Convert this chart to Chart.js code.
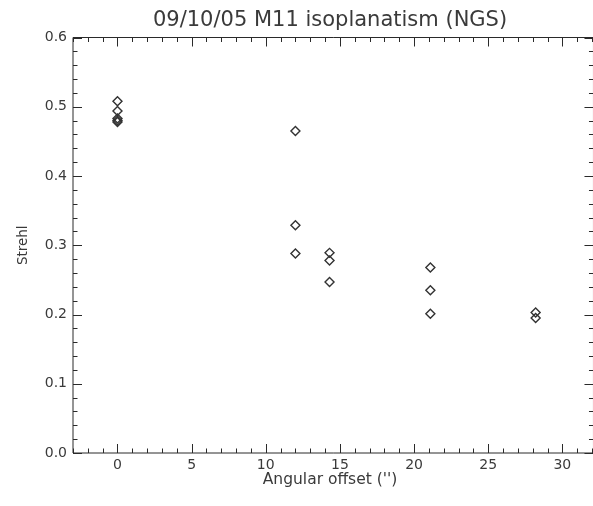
<!DOCTYPE html>
<html>
<head>
<meta charset="utf-8">
<script src="https://cdn.jsdelivr.net/npm/chart.js@4"></script>
<style>
  html, body { margin: 0; padding: 0; background: #fff; }
  #wrap { width: 593px; height: 506px; }
</style>
</head>
<body>
<div id="wrap"><canvas id="strehlChart" width="593" height="506"></canvas></div>
<script>
// valeurs
const offsets = [0, 0, 0, 0, 0, 12, 12, 12, 14.3, 14.3, 14.3, 21.1, 21.1, 21.1, 28.2, 28.2];
const strehl = [0.508, 0.494, 0.483, 0.480, 0.478, 0.465, 0.329, 0.288, 0.289, 0.278, 0.247, 0.268, 0.235, 0.201, 0.203, 0.195];
const xTicks = [0, 5, 10, 15, 20, 25, 30];
const yTicks = [0.0, 0.1, 0.2, 0.3, 0.4, 0.5, 0.6];

const ink = '#2a2a2a';
const fontName = "'DejaVu Sans', sans-serif";

// cadre façon IDL : traits de graduation vers l'intérieur sur les 4 côtés
const idlFrame = {
  id: 'idlFrame',
  afterDraw(chart) {
    const { ctx, chartArea: a, scales: { x, y } } = chart;
    const left = a.left, top = a.top, bottom = a.bottom;
    const right = x.getPixelForValue(32.1);
    ctx.save();
    ctx.strokeStyle = ink;
    ctx.lineWidth = 1;
    ctx.beginPath();
    ctx.moveTo(left, top); ctx.lineTo(right, top);
    ctx.lineTo(right, bottom); ctx.lineTo(left, bottom);
    ctx.closePath();
    // graduations X
    for (let v = -3; v <= 32; v++) {
      const px = Math.round(x.getPixelForValue(v)) + 0.5;
      const len = v % 5 === 0 ? 9 : 4.5;
      ctx.moveTo(px, bottom); ctx.lineTo(px, bottom - len);
      ctx.moveTo(px, top); ctx.lineTo(px, top + len);
    }
    // graduations Y
    for (let i = 0; i <= 30; i++) {
      const py = Math.round(y.getPixelForValue(i * 0.02)) + 0.5;
      const len = i % 5 === 0 ? 9 : 4.5;
      ctx.moveTo(left, py); ctx.lineTo(left + len, py);
      ctx.moveTo(right, py); ctx.lineTo(right - len, py);
    }
    ctx.stroke();
    ctx.restore();
  }
};

function renderStrehlChart() {
  const ctx = document.getElementById('strehlChart').getContext('2d');
  new Chart(ctx, {
    type: 'scatter',
    data: {
      datasets: [{
        label: 'Strehl',
        data: offsets.map((o, i) => ({ x: o, y: strehl[i] })),
        pointStyle: 'rectRot',
        pointRadius: 4.5,
        pointHoverRadius: 4.5,
        borderColor: '#333',
        backgroundColor: 'rgba(0,0,0,0)',
        pointBorderWidth: 1.4
      }]
    },
    options: {
      responsive: false,
      animation: false,
      layout: { padding: 0 },
      plugins: {
        legend: { display: false },
        tooltip: { enabled: false },
        title: {
          display: true,
          fullSize: false,
          text: '09/10/05 M11 isoplanatism (NGS)',
          color: '#3a3a3a',
          font: { family: fontName, size: 21, weight: 'normal' },
          padding: { top: 8, bottom: 4.3 }
        }
      },
      scales: {
        x: {
          type: 'linear',
          min: -3,
          max: 31.67,
          grid: { display: false, drawTicks: false },
          border: { display: false },
          afterBuildTicks: s => { s.ticks = xTicks.map(v => ({ value: v })); },
          afterFit: s => { s.height = 53; },
          ticks: {
            padding: 4,
            color: '#3a3a3a',
            font: { family: fontName, size: 14 },
            callback: v => String(v)
          },
          title: {
            display: true,
            text: "Angular offset ('')",
            color: '#3a3a3a',
            font: { family: fontName, size: 15.5 },
            padding: { top: 0, bottom: 17 }
          }
        },
        y: {
          type: 'linear',
          min: 0,
          max: 0.6,
          grid: { display: false, drawTicks: false },
          border: { display: false },
          afterBuildTicks: s => { s.ticks = yTicks.map(v => ({ value: v })); },
          afterFit: s => { s.width = 73; },
          ticks: {
            padding: 6,
            color: '#3a3a3a',
            font: { family: fontName, size: 14 },
            callback: v => Number(v).toFixed(1)
          },
          title: {
            display: true,
            text: 'Strehl',
            color: '#3a3a3a',
            font: { family: fontName, size: 13.5 },
            padding: { top: 15, bottom: 0 }
          }
        }
      }
    },
    plugins: [idlFrame]
  });
}

document.addEventListener('DOMContentLoaded', renderStrehlChart);
</script>
</body>
</html>
